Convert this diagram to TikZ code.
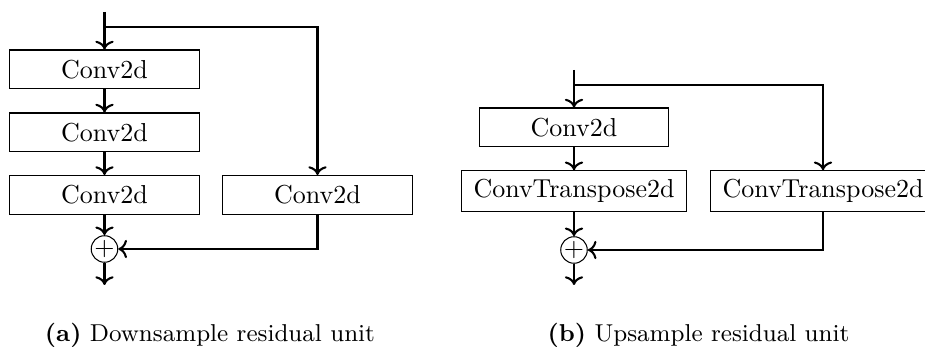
\documentclass[tikz,border=0pt]{standalone}
\usetikzlibrary{arrows.meta}
\begin{document}
\begin{tikzpicture}[
  x=0.385pt, y=-0.385pt,
  layer/.style={draw, line width=0.4pt, rectangle, minimum width=73pt,
    minimum height=15pt, inner xsep=4.6pt, inner ysep=3.3pt},
  sumnode/.style={draw, line width=0.4pt, circle, inner sep=0pt},
  flow/.style={line width=0.8pt, ->},
  caplabel/.style={anchor=base, inner sep=0pt, font=\fontsize{9.4pt}{11pt}\selectfont}
]
\useasboundingbox (0,0) rectangle (925,347);

% ---- downsample residual unit ----
\coordinate (in1) at (104.5,12);
\coordinate (br1) at (104.5,27);
\node[layer] (a1) at (104.5,69.5) {Conv2d};
\node[layer] (a2) at (104.5,132.5) {Conv2d};
\node[layer] (a3) at (104.5,195) {Conv2d};
\node[layer] (a4) at (317.5,195) {Conv2d};
\node[sumnode] (s1) at (104.5,249) {$+$};
\coordinate (out1) at (104.5,285);

\draw[flow] (in1) -- (a1);
\draw[flow] (br1) -| (a4);
\draw[flow] (a1) -- (a2);
\draw[flow] (a2) -- (a3);
\draw[flow] (a3) -- (s1);
\draw[flow] (a4) |- (s1);
\draw[flow] (s1) -- (out1);

% ---- upsample residual unit ----
\coordinate (in2) at (574,70);
\coordinate (br2) at (574,85);
\node[layer] (b1) at (574,127.5) {Conv2d};
\node[layer] (b2) at (574,191) {ConvTranspose2d};
\node[layer] (b3) at (823,191) {ConvTranspose2d};
\node[sumnode] (s2) at (574,250) {$+$};
\coordinate (out2) at (574,285);

\draw[flow] (in2) -- (b1);
\draw[flow] (br2) -| (b3);
\draw[flow] (b1) -- (b2);
\draw[flow] (b2) -- (s2);
\draw[flow] (b3) |- (s2);
\draw[flow] (s2) -- (out2);

% ---- captions ----
\node[caplabel] (capa) at (210,342) {\textbf{(a)} Downsample residual unit};
\node[caplabel] (capb) at (698.5,342) {\textbf{(b)} Upsample residual unit};
\end{tikzpicture}
\end{document}
